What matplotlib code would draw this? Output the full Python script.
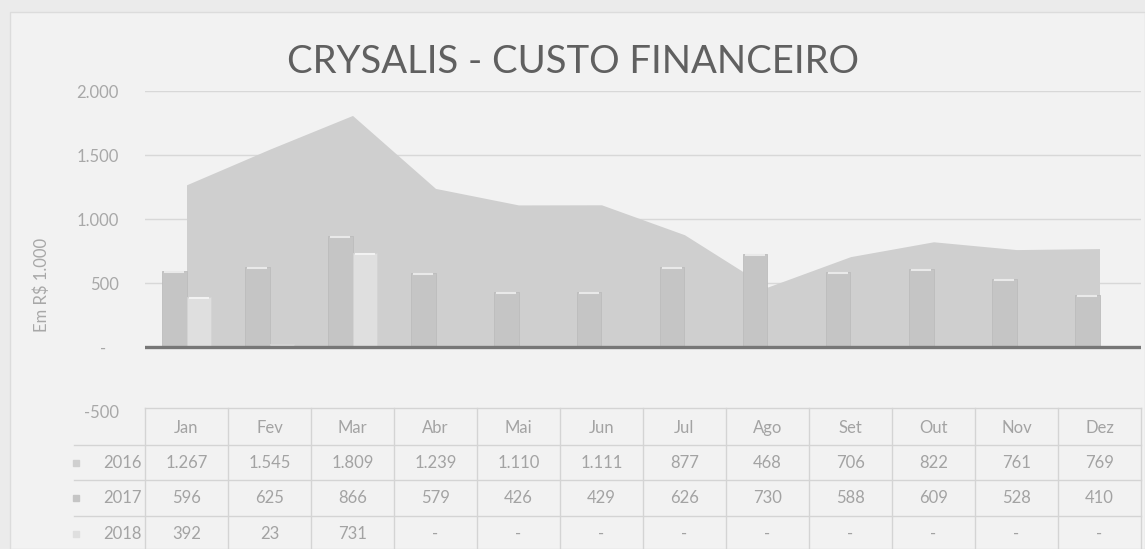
import matplotlib
matplotlib.use("Agg")
import matplotlib.pyplot as plt
import matplotlib.transforms as mtransforms
from matplotlib.patches import Rectangle
import numpy as np

# ---- data ----
months = ["Jan", "Fev", "Mar", "Abr", "Mai", "Jun", "Jul", "Ago", "Set", "Out", "Nov", "Dez"]
years = ["2016", "2017", "2018"]
v2016 = [1267, 1545, 1809, 1239, 1110, 1111, 877, 468, 706, 822, 761, 769]
v2017 = [596, 625, 866, 579, 426, 429, 626, 730, 588, 609, 528, 410]
v2018 = [392, 23, 731, None, None, None, None, None, None, None, None, None]
yticks = [-500, 0, 500, 1000, 1500, 2000]
title = "CRYSALIS - CUSTO FINANCEIRO"
ylabel = "Em R$ 1.000"

plt.rcParams['font.family'] = ['Lato', 'DejaVu Sans']

W, H = 1145, 549
fig = plt.figure(figsize=(W / 100, H / 100), dpi=100, facecolor="#ebebeb")

# chart area background
fig.patches.append(Rectangle((10 / W, 0), 1 - 10 / W, 1 - 12 / H, transform=fig.transFigure,
                             facecolor="#f2f2f2", edgecolor="#dcdcdc", lw=1, zorder=-10))

def fx(px):
    return px / W

def fy(py):
    return 1 - py / H

ax_left, ax_right, ax_top, ax_bot = 145, 1141, 91, 411
ax = fig.add_axes([fx(ax_left), fy(ax_bot), (ax_right - ax_left) / W, (ax_bot - ax_top) / H])
ax.set_facecolor("none")
ax.set_zorder(5)

x = np.arange(len(months))
c2016, c2017, c2018 = "#cfcfcf", "#c5c5c5", "#dfdfdf"

ax.fill_between(x, 0, v2016, color=c2016, lw=0, zorder=2)
bw = 0.3
v18 = np.array([v if v is not None else 0 for v in v2018], dtype=float)
ax.bar(x - bw / 2, v2017, width=bw, color=c2017, edgecolor="#bcbcbc", lw=0.6, zorder=3)
ax.bar(x + bw / 2, v18, width=bw, color=c2018, edgecolor="#d4d4d4", lw=0.6, zorder=3)
# subtle highlight on bar tops
ax.hlines(np.array(v2017) - 8, x - bw + 0.03, x - 0.03, color="#e9e9e9", lw=1.5, zorder=4)
mask = v18 > 50
ax.hlines(v18[mask] - 8, x[mask] + 0.03, x[mask] + bw - 0.03, color="#f2f2f2", lw=1.5, zorder=4)

ax.set_xlim(-0.5, len(months) - 0.5)
ax.set_ylim(-500, 2000)
ax.set_yticks(yticks)

def fmt(v):
    if v == 0:
        return "-   "
    s = f"{abs(v):,}".replace(",", ".")
    return ("-" if v < 0 else "") + s

ax.set_yticklabels([fmt(v) for v in yticks], color="#a8a8a8", fontsize=12)
ax.tick_params(axis="y", length=0, pad=19)
ax.set_xticks([])
for s in ax.spines.values():
    s.set_visible(False)
for v in [500, 1000, 1500, 2000]:
    ax.axhline(v, color="#d8d8d8", lw=1, zorder=1)
ax.axhline(0, color="#777777", lw=2.4, zorder=5)

fig.text(fx(573), fy(62), title, ha="center", va="center", fontsize=27.5, color="#606060")
fig.text(fx(42), fy(285), ylabel, rotation=90, ha="center", va="center", fontsize=12, color="#a8a8a8")

# ---- data table ----
tr = mtransforms.blended_transform_factory(ax.transData, fig.transFigure)
row_lines = [408, 445, 480, 516, 549]
row_centers = [428, 463, 498, 534]
lc = "#d4d4d4"
tc = "#a3a3a3"
ax.plot([-0.5, 11.5], [fy(row_lines[0])] * 2, transform=tr, color=lc, lw=1, clip_on=False)
for py in row_lines[1:4]:
    ax.plot([-1.35, 11.5], [fy(py)] * 2, transform=tr, color=lc, lw=1, clip_on=False)
for i in range(len(months) + 1):
    ax.plot([i - 0.5, i - 0.5], [fy(row_lines[0]), fy(row_lines[-1])], transform=tr,
            color=lc, lw=1, clip_on=False)
for i, m in enumerate(months):
    ax.text(i, fy(row_centers[0]), m, transform=tr, ha="center", va="center", fontsize=12, color=tc)

series = [v2016, v2017, v2018]
colors = [c2016, c2017, c2018]
for r, (yr, vals, col) in enumerate(zip(years, series, colors)):
    yc = fy(row_centers[r + 1])
    ax.text(-0.54, yc, yr, transform=tr, ha="right", va="center", fontsize=12, color=tc)
    ax.add_patch(Rectangle((-1.37, yc - 3 / H), 0.07, 6 / H, transform=tr, color=col,
                           clip_on=False))
    for i, v in enumerate(vals):
        txt = fmt(v) if v is not None else "-"
        ax.text(i, yc, txt, transform=tr, ha="center", va="center", fontsize=12, color=tc)

fig.savefig("out.png", dpi=100, facecolor=fig.get_facecolor())
